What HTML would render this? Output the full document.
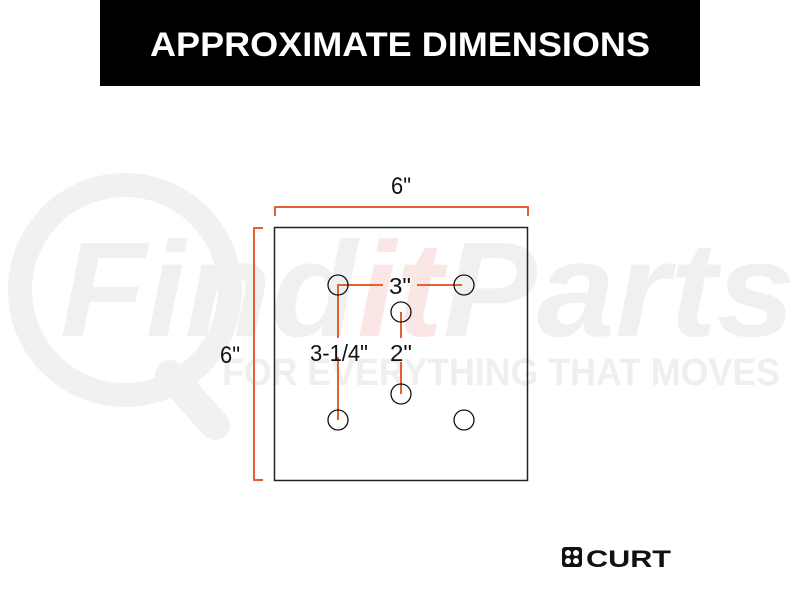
<!DOCTYPE html>
<html><head><style>
html,body{margin:0;padding:0;background:#fff;width:800px;height:600px;overflow:hidden}
</style></head><body>
<svg width="800" height="600" viewBox="0 0 800 600" xmlns="http://www.w3.org/2000/svg">
<rect width="800" height="600" fill="#fff"/>
<!-- watermark -->
<circle cx="125" cy="290" r="105" fill="none" stroke="#f1f1f1" stroke-width="24"/>
<line x1="170" y1="375" x2="215" y2="425" stroke="#f1f1f1" stroke-width="30" stroke-linecap="round"/>
<text x="60" y="336" font-family="Liberation Sans, sans-serif" font-weight="bold" font-style="italic" font-size="135" fill="#f0f0f0" textLength="735" lengthAdjust="spacingAndGlyphs">Find<tspan fill="#fbe6e6">it</tspan>Parts</text>
<text x="222" y="385" font-family="Liberation Sans, sans-serif" font-weight="bold" font-size="38" fill="#efefef" textLength="558" lengthAdjust="spacingAndGlyphs">FOR EVERYTHING THAT MOVES</text>
<!-- header -->
<rect x="100" y="0" width="600" height="86" fill="#000"/>
<text x="400" y="56" text-anchor="middle" font-family="Liberation Sans, sans-serif" font-weight="bold" font-size="34" fill="#fff" textLength="500" lengthAdjust="spacingAndGlyphs">APPROXIMATE DIMENSIONS</text>
<!-- brackets -->
<path d="M275 216 V207 H528 V216" fill="none" stroke="#e0622f" stroke-width="2"/>
<path d="M263 228 H254 V480 H263" fill="none" stroke="#e0622f" stroke-width="2"/>
<g font-family="Liberation Sans, sans-serif" font-size="24" fill="#111" text-anchor="middle">
<text x="401" y="194" textLength="20" lengthAdjust="spacingAndGlyphs">6"</text>
<text x="230" y="363" textLength="20" lengthAdjust="spacingAndGlyphs">6"</text>
</g>
<!-- plate -->
<rect x="274.5" y="227.5" width="253" height="253" fill="none" stroke="#222" stroke-width="1.5"/>
<!-- dims -->
<g stroke="#e0622f" stroke-width="2" fill="none">
<path d="M338 420 V357 M338 338 V285 H383 M417 285 H462"/>
<path d="M401 312 V338 M401 362 V394"/>
</g>
<g fill="none" stroke="#111" stroke-width="1.3">
<circle cx="338" cy="285" r="10"/><circle cx="464" cy="285" r="10"/>
<circle cx="401" cy="312" r="10"/><circle cx="401" cy="394" r="10"/>
<circle cx="338" cy="420" r="10"/><circle cx="464" cy="420" r="10"/>
</g>
<g font-family="Liberation Sans, sans-serif" font-size="23" fill="#111" text-anchor="middle">
<text x="400" y="294" textLength="22" lengthAdjust="spacingAndGlyphs">3"</text>
<text x="339" y="361" textLength="58" lengthAdjust="spacingAndGlyphs">3-1/4"</text>
<text x="401" y="361" textLength="22" lengthAdjust="spacingAndGlyphs">2"</text>
</g>
<!-- logo -->
<g transform="translate(562,545)">
<rect x="0" y="2" width="20" height="20" rx="3" fill="#111"/>
<circle cx="6" cy="8" r="3" fill="#fff"/><circle cx="14" cy="8" r="3" fill="#fff"/>
<circle cx="6" cy="16" r="3" fill="#fff"/><circle cx="14" cy="16" r="3" fill="#fff"/>
<text x="24" y="22" font-family="Liberation Sans, sans-serif" font-weight="bold" font-size="24" fill="#111" textLength="85" lengthAdjust="spacingAndGlyphs">CURT</text>
</g>
</svg>
</body></html>
